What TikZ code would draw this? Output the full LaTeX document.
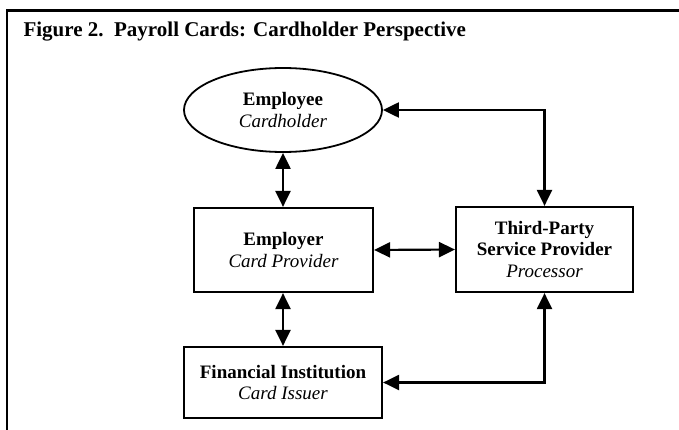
\documentclass[tikz,border=0pt]{standalone}
\usepackage{fontspec}
\setmainfont{Liberation Serif}
\usetikzlibrary{calc,arrows.meta,shapes.geometric}

\tikzset{
	party/.style={draw,line width=2.2pt,align=center,font=\fontsize{19}{21.5}\selectfont},
	link/.style={line width=2.2pt,{Triangle[length=16pt,width=15pt]}-{Triangle[length=16pt,width=15pt]}}
}

\begin{document}
\begin{tikzpicture}[x=1pt,y=-1pt]
		\useasboundingbox (0,0) rectangle (679,430);
		% outer frame, cut off at the right and bottom
		\draw[line width=2.4pt] (7,430) -- (7,10.5) -- (679,10.5);
		\node (T) at (20,37) [anchor=base west,font=\fontsize{21}{23}\selectfont\bfseries] {Figure 2.\ \ Payroll Cards: Cardholder Perspective};
		\node (EE) at (283,110) [party,ellipse,minimum width=198,minimum height=84,line width=1.8pt] {\textbf{Employee}\\\textit{Cardholder}};
		\node (ER) at (283.5,250) [party,minimum width=179,minimum height=84] {\textbf{Employer}\\\textit{Card Provider}};
		\node (TP) at (544.5,249.5) [party,minimum width=177,minimum height=85] {\textbf{Third-Party}\\\textbf{Service Provider}\\\textit{Processor}};
		\node (FI) at (283,382.5) [party,minimum width=198,minimum height=71] {\textbf{Financial Institution}\\\textit{Card Issuer}};
		\draw[link] (EE.south) -- (EE.south |- ER.north);
		\draw[link] (ER.east) -- (TP.west);
		\draw[link] (EE.east) -| (TP.north);
		\draw[link] (FI.north |- ER.south) -- (FI.north);
		\draw[link] (FI.east) -| (TP.south);
	\end{tikzpicture}
\end{document}
